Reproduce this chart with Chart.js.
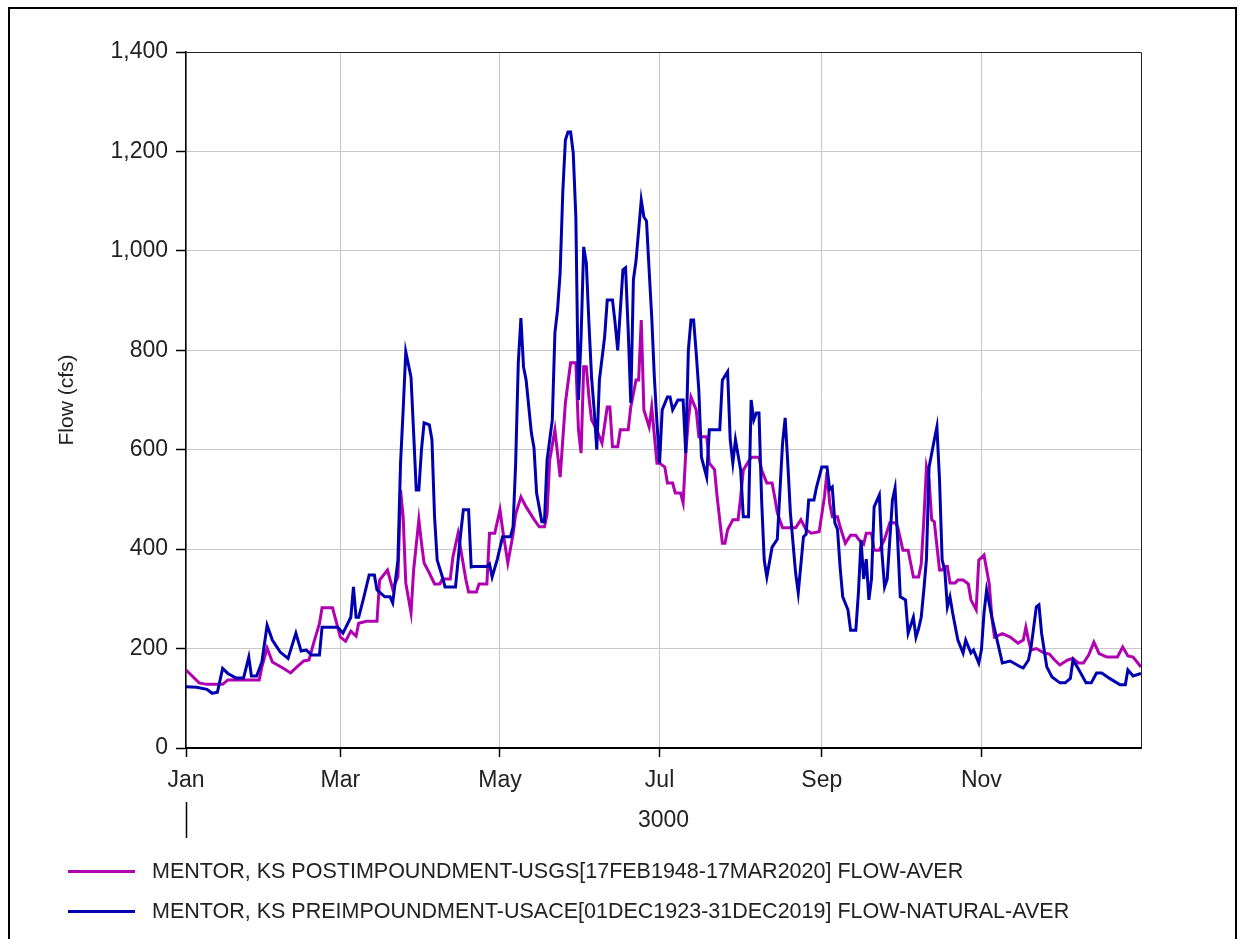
<!DOCTYPE html>
<html>
<head>
<meta charset="utf-8">
<script src="https://cdn.jsdelivr.net/npm/chart.js@4/dist/chart.umd.min.js"></script>
<style>
  html, body { margin: 0; padding: 0; background: #fff; }
  body { width: 1245px; height: 939px; position: relative; overflow: hidden; font-family: "Liberation Sans", Arial, sans-serif; }
  #frame { position: absolute; left: 8px; top: 7px; width: 1229px; height: 945px; border: 2px solid #000; box-sizing: border-box; }
  #chart { position: absolute; left: 0; top: 0; }
  .legend-row { position: absolute; left: 68px; height: 24px; display: flex; align-items: center; font-size: 21.5px; color: #222; white-space: nowrap; }
  .legend-row .swatch { width: 67px; height: 3px; margin-right: 17px; }
</style>
</head>
<body>
<div id="frame"></div>
<canvas id="chart" width="1245" height="939"></canvas>
<div class="legend-row" style="top:859px"><span class="swatch" style="background:#b000b0"></span>MENTOR, KS POSTIMPOUNDMENT-USGS[17FEB1948-17MAR2020] FLOW-AVER</div>
<div class="legend-row" style="top:899px"><span class="swatch" style="background:#0000b0"></span>MENTOR, KS PREIMPOUNDMENT-USACE[01DEC1923-31DEC2019] FLOW-NATURAL-AVER</div>
<script>
// eje x en días del año (0 = 1 ene)
const monthTicks = [0, 59, 120, 181, 243, 304];
const monthLabels = ['Jan', 'Mar', 'May', 'Jul', 'Sep', 'Nov'];
const yearLabel = '3000';

// serie post-embalse (magenta)
const postDays = [0, 5, 8, 14, 16, 28, 29, 31, 33, 37, 40, 42, 45, 47, 49, 51, 52, 56, 59, 61, 63, 65, 66, 69, 73, 74, 77, 79, 81, 82, 83, 84, 86, 87, 89, 90, 91, 93, 95, 97, 98, 101, 102, 104, 105, 107, 108, 111, 112, 115, 116, 118, 120, 121, 123, 125, 126, 128, 130, 133, 135, 137, 138, 139, 141, 143, 145, 147, 149, 150, 151, 152, 153, 154, 155, 157, 159, 161, 162, 163, 165, 166, 169, 170, 172, 173, 174, 175, 177, 178, 180, 181, 183, 184, 186, 187, 189, 190, 191, 192, 193, 195, 196, 199, 200, 202, 203, 205, 206, 207, 209, 211, 212, 213, 216, 219, 220, 222, 224, 225, 226, 228, 233, 235, 237, 239, 242, 244, 245, 246, 247, 249, 250, 252, 254, 256, 257, 259, 260, 262, 263, 265, 267, 269, 271, 272, 274, 276, 278, 280, 281, 282, 283, 284, 285, 286, 288, 289, 290, 291, 292, 294, 295, 297, 299, 300, 302, 303, 305, 307, 308, 309, 312, 315, 318, 320, 321, 322, 323, 325, 328, 330, 332, 334, 337, 339, 341, 343, 345, 347, 349, 352, 356, 358, 360, 362, 365];
const postFlow = [157, 131, 128, 128, 137, 137, 163, 201, 173, 161, 151, 161, 175, 177, 215, 250, 282, 282, 223, 215, 235, 225, 251, 255, 255, 338, 358, 320, 344, 519, 465, 332, 272, 358, 459, 412, 372, 352, 330, 330, 340, 340, 384, 432, 400, 338, 314, 314, 330, 330, 432, 432, 479, 440, 372, 430, 470, 505, 485, 460, 445, 445, 470, 579, 640, 545, 694, 775, 775, 640, 593, 767, 767, 706, 660, 640, 613, 686, 686, 606, 606, 640, 640, 686, 740, 740, 861, 680, 646, 686, 573, 573, 565, 533, 533, 513, 513, 493, 593, 660, 706, 680, 626, 626, 573, 560, 505, 412, 412, 439, 459, 459, 505, 559, 585, 585, 559, 533, 533, 505, 473, 443, 443, 459, 439, 432, 435, 505, 555, 493, 465, 465, 445, 412, 428, 428, 420, 410, 432, 432, 398, 398, 420, 453, 453, 445, 398, 398, 344, 344, 370, 459, 565, 540, 459, 455, 358, 358, 365, 365, 332, 332, 338, 338, 330, 298, 278, 378, 388, 330, 263, 223, 230, 223, 211, 217, 243, 217, 197, 200, 191, 189, 177, 167, 177, 180, 171, 171, 187, 213, 190, 183, 183, 203, 185, 183, 163];

// serie pre-embalse natural (azul)
const preDays = [0, 4, 8, 10, 12, 14, 16, 19, 22, 24, 25, 27, 29, 31, 33, 36, 39, 42, 44, 46, 48, 51, 52, 55, 58, 60, 63, 64, 65, 66, 68, 70, 72, 73, 76, 78, 79, 81, 82, 83, 84, 86, 87, 88, 89, 90, 91, 93, 94, 95, 96, 98, 99, 103, 105, 106, 108, 109, 110, 115, 116, 117, 119, 121, 124, 125, 126, 127, 128, 129, 130, 132, 133, 134, 136, 137, 138, 140, 141, 142, 143, 144, 145, 146, 147, 148, 149, 150, 151, 152, 153, 154, 155, 156, 157, 158, 160, 161, 163, 164, 165, 167, 168, 169, 170, 171, 172, 174, 175, 176, 177, 178, 179, 180, 181, 182, 184, 185, 186, 188, 190, 191, 192, 193, 194, 195, 196, 197, 199, 200, 204, 205, 207, 208, 209, 210, 212, 213, 215, 216, 217, 218, 219, 220, 221, 222, 224, 226, 228, 229, 230, 231, 233, 234, 236, 237, 238, 240, 241, 243, 245, 246, 247, 248, 249, 250, 251, 253, 254, 256, 257, 258, 259, 260, 261, 262, 263, 265, 266, 267, 268, 270, 271, 272, 273, 275, 276, 278, 279, 280, 281, 282, 283, 284, 286, 287, 288, 289, 290, 291, 292, 293, 295, 297, 298, 300, 301, 303, 304, 305, 306, 308, 310, 312, 315, 319, 320, 322, 323, 325, 326, 327, 329, 331, 334, 336, 338, 339, 341, 344, 346, 348, 350, 353, 357, 359, 360, 362, 365];
const preFlow = [123, 122, 118, 110, 112, 160, 150, 141, 141, 183, 145, 145, 173, 247, 217, 193, 180, 231, 195, 197, 187, 187, 243, 243, 243, 231, 263, 324, 263, 263, 304, 348, 348, 318, 304, 304, 292, 378, 573, 680, 797, 746, 634, 519, 519, 600, 654, 650, 620, 465, 378, 344, 324, 324, 432, 479, 479, 364, 365, 365, 370, 344, 380, 425, 425, 445, 573, 775, 865, 767, 740, 634, 604, 513, 455, 455, 579, 660, 835, 881, 956, 1117, 1223, 1239, 1239, 1197, 1068, 700, 827, 1008, 976, 855, 746, 680, 600, 740, 827, 901, 901, 855, 800, 962, 966, 841, 694, 942, 980, 1102, 1068, 1060, 962, 867, 746, 654, 573, 680, 706, 706, 680, 700, 700, 593, 800, 861, 861, 795, 720, 585, 545, 640, 640, 740, 757, 620, 573, 620, 559, 465, 465, 700, 660, 674, 674, 499, 378, 344, 404, 420, 613, 664, 573, 473, 352, 312, 425, 430, 499, 499, 525, 565, 565, 520, 525, 453, 440, 364, 304, 278, 237, 237, 312, 418, 340, 380, 298, 340, 485, 509, 392, 324, 340, 499, 523, 418, 304, 298, 231, 263, 223, 240, 263, 318, 380, 565, 620, 646, 539, 378, 358, 284, 304, 272, 217, 191, 217, 191, 197, 171, 197, 272, 318, 263, 217, 171, 175, 163, 161, 177, 203, 284, 288, 231, 163, 143, 131, 131, 140, 177, 160, 131, 131, 151, 151, 140, 127, 127, 157, 145, 150, 141];

const toPoints = (days, flow) => days.map((d, i) => ({ x: d, y: flow[i] }));

// marco del área de trazado y marca del año
const framePlugin = {
    id: 'frame',
    afterDraw(chart) {
        const { ctx, chartArea } = chart;
        const xs = chart.scales.x;
        ctx.save();
        ctx.strokeStyle = '#222';
        ctx.lineWidth = 1;
        ctx.beginPath();
        ctx.moveTo(chartArea.left, chartArea.top + 0.5);
        ctx.lineTo(chartArea.right + 0.5, chartArea.top + 0.5);
        ctx.lineTo(chartArea.right + 0.5, chartArea.bottom);
        ctx.stroke();
        const x0 = Math.round(xs.getPixelForValue(0)) + 0.5;
        ctx.strokeStyle = '#000';
        ctx.lineWidth = 1.5;
        ctx.beginPath();
        ctx.moveTo(x0, 802);
        ctx.lineTo(x0, 838);
        ctx.stroke();
        ctx.restore();
    }
};

Chart.defaults.font.family = '"Liberation Sans", Arial, sans-serif';
Chart.defaults.font.size = 23;
Chart.defaults.color = '#222';

new Chart(document.getElementById('chart'), {
    type: 'line',
    data: {
        datasets: [{
            label: 'MENTOR, KS POSTIMPOUNDMENT-USGS[17FEB1948-17MAR2020] FLOW-AVER',
            data: toPoints(postDays, postFlow),
            borderColor: '#b000b0',
            borderWidth: 3,
            pointRadius: 0,
            tension: 0,
            order: 1
        }, {
            label: 'MENTOR, KS PREIMPOUNDMENT-USACE[01DEC1923-31DEC2019] FLOW-NATURAL-AVER',
            data: toPoints(preDays, preFlow),
            borderColor: '#0000b0',
            borderWidth: 3,
            pointRadius: 0,
            tension: 0,
            order: 0
        }]
    },
    options: {
        responsive: false,
        animation: false,
        layout: { padding: { left: 0, top: 52, right: 104, bottom: 0 } },
        plugins: { legend: { display: false }, tooltip: { enabled: false } },
        scales: {
            x: {
                type: 'linear',
                min: 0,
                max: 365,
                afterBuildTicks: (scale) => { scale.ticks = monthTicks.map(v => ({ value: v })); },
                afterFit: (scale) => { scale.height = 191; },
                ticks: {
                    autoSkip: false,
                    maxRotation: 0,
                    padding: 10,
                    callback: (v, i) => monthLabels[i]
                },
                grid: { color: '#c8c8c8', lineWidth: 1, tickColor: '#000', tickLength: 9, tickWidth: 1.5 },
                border: { color: '#000', width: 2 },
                title: { display: true, text: yearLabel, padding: { top: 0, bottom: 105 } }
            },
            y: {
                min: 0,
                max: 1400,
                afterFit: (scale) => { scale.width = 186; },
                ticks: {
                    stepSize: 200,
                    padding: 8,
                    callback: (v) => v.toLocaleString('en-US')
                },
                grid: { color: '#c8c8c8', lineWidth: 1, tickColor: '#000', tickLength: 10, tickWidth: 1.5 },
                border: { color: '#000', width: 1.5 },
                title: { display: true, text: 'Flow (cfs)', font: { size: 21 }, padding: { top: 55, bottom: 0 } }
            }
        }
    },
    plugins: [framePlugin]
});
</script>
</body>
</html>
